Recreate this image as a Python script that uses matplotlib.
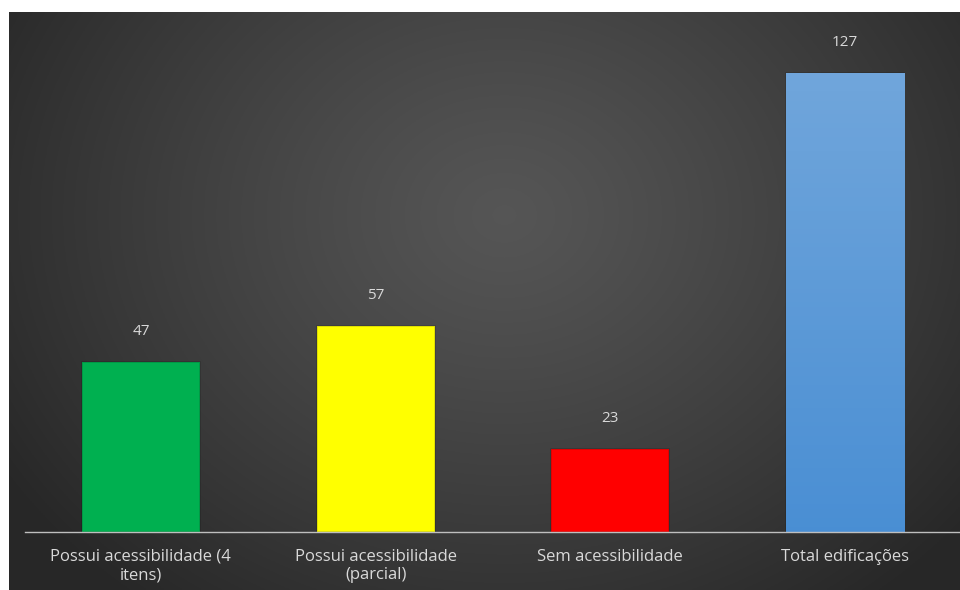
import matplotlib
matplotlib.use("Agg")
import matplotlib.pyplot as plt
import numpy as np

categories = ["Possui acessibilidade (4\nitens)", "Possui acessibilidade\n(parcial)",
              "Sem acessibilidade", "Total edificações"]
values = [47, 57, 23, 127]
colors = ["#00b050", "#ffff00", "#ff0000", "#5b9bd5"]

plt.rcParams['font.family'] = ['Open Sans', 'DejaVu Sans']

fig = plt.figure(figsize=(9.6, 5.9), dpi=100, facecolor="white")

# dark radial backdrop
bg = fig.add_axes([9 / 960, 0, 951 / 960, 578 / 590])
bg.set_axis_off()
h, w = 300, 500
yy, xx = np.mgrid[0:h, 0:w]
cx, cy = w * 0.52, h * 0.35
r = np.sqrt(((xx - cx) / (w * 0.62)) ** 2 + ((yy - cy) / (h * 0.85)) ** 2)
r = np.clip(r, 0, 1)
lum = 0.335 - (0.335 - 0.155) * r ** 1.2
img = np.dstack([lum, lum, lum])
bg.imshow(img, aspect="auto", extent=[0, 1, 0, 1], origin="upper")
bg.set_xlim(0, 1)
bg.set_ylim(0, 1)

ax = fig.add_axes([25 / 960, 58 / 590, 935 / 960, 520 / 590])
ax.patch.set_alpha(0)
x = np.arange(len(values))
bars = ax.bar(x, values, width=0.503, color=colors, zorder=2,
              edgecolor=(0, 0, 0, 0.15), linewidth=1.2)

# blue bar gets a soft vertical gradient
blue = bars[3]
grad = np.linspace(0, 1, 100)[:, None]
top_c = np.array([0.44, 0.65, 0.86])
bot_c = np.array([0.29, 0.56, 0.83])
gimg = (top_c * (1 - grad)[..., None] + bot_c * grad[..., None]) * np.ones((100, 2, 3))
bx0 = blue.get_x()
im = ax.imshow(gimg, extent=[bx0, bx0 + blue.get_width(), 0, values[3]],
               aspect="auto", zorder=2.5, origin="upper")
im.set_clip_path(blue)

for xi, v in zip(x, values):
    ax.annotate(str(v), (xi, v), xytext=(0, 22), textcoords="offset points",
                ha="center", va="center", color="#d9d9d9", fontsize=11)

ax.set_xlim(-0.494, 3.49)
ax.set_ylim(0, 520 / 3.614)
ax.set_yticks([])
ax.set_xticks(x)
ax.set_xticklabels(categories, color="#d9d9d9", fontsize=12, linespacing=1.2)
ax.tick_params(axis="x", length=0, pad=12)
for s in ["top", "right", "left"]:
    ax.spines[s].set_visible(False)
ax.spines["bottom"].set_color("#bfbfbf")
ax.spines["bottom"].set_linewidth(1.0)

fig.savefig("out.png", dpi=100, facecolor="white")
